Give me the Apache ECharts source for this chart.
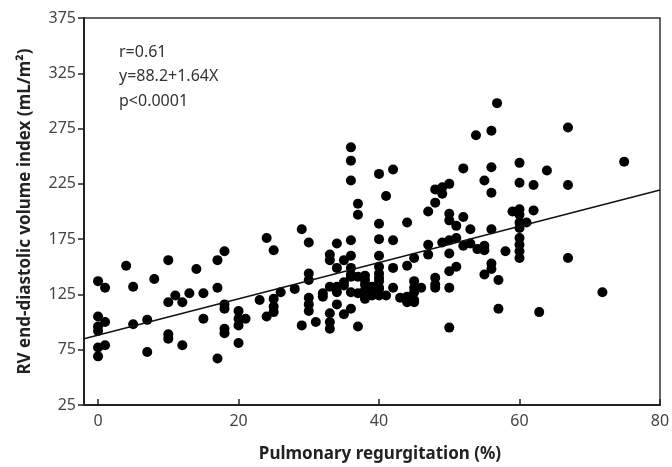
<!DOCTYPE html>
<html>
<head>
<meta charset="utf-8">
<script src="https://cdn.jsdelivr.net/npm/echarts@6/dist/echarts.min.js"></script>
<style>
html,body{margin:0;padding:0;background:#fff;}
#chart{width:672px;height:467px;}
</style>
</head>
<body>
<div id="chart"></div>
<script>
// Pulmonary regurgitation (%)
const prPct = [
0,0,0,0,0,0, 1,1,1,
4,5,5,7,7,8,
10,10,10,10,11,12,12,13,14,15,15,
17,17,17,18,18,18,18,18,
20,20,20,20,21,23,24,24,
25,25,25,25,26,28,29,29,
30,30,30,30,30,30,31,32,32,
33,33,33,33,33,33,
34,34,34,34,34,
35,35,35,35,
36,36,36,36,36,36,36,36,36,36,
37,37,37,37,37,
38,38,38,38,38,38,38,
39,39,39,39,
40,40,40,40,40,40,40,40,40,40,40,
41,41,42,42,42,42,43,
44,44,44,44,
45,45,45,45,45,45,46,
47,47,47,48,48,48,48,48,
49,49,49,
50,50,50,50,50,50,50,50,
51,51,51,52,52,52,53,53,53.8,54,
55,55,55,55,
56.8,56,56,56,56,56,56,
57,57,58,59,
60,60,60,60,60,60,60,60,60,60,
61,62,62,62.8,63.9,66.9,66.9,66.9,71.8,74.9
];
// RV end-diastolic volume index (mL/m2)
const rvEdvi = [
137,105,96,92,77,69, 131,100,79,
151,132,98,102,73,139,
156,118,89,85,124,118,79,126,148,126,103,
156,131,67,164,116,112,94,90,
110,103,97,81,103,120,176,105,
165,121,114,109,127,130,184,97,
172,144,138,122,116,110,100,126,123,
161,156,132,108,100,94,
171,149,132,127,116,
156,136,133,107,
258,246,228,174,160,149,143,141,127,112,
207,197,141,126,96,
142,138,134,129,127,123,121,
132,129,127,124,
234,189,175,160,150,144,140,137,131,130,124,
214,124,238,174,149,131,122,
190,151,123,118,
158,137,131,127,120,118,131,
200,170,161,220,208,140,134,131,
222,216,172,
225,198,192,174,162,146,131,95,
187,176,150,239,195,169,184,171,269,166,
228,169,165,143,
298,273,240,217,184,153,148,
138,112,164,200,
244,226,202,197,190,185,176,170,164,158,
190,224,201,109,237,276,224,158,127,245
];
const xTicks = [0, 20, 40, 60, 80];
const yTicks = [25, 75, 125, 175, 225, 275, 325, 375];
const regIntercept = 88.2;
const regSlope = 1.64;
const statsLines = ['r=0.61', 'y=88.2+1.64X', 'p<0.0001'];

const xMin = -2, xMax = 80;
const points = prPct.map((x, i) => [x, rvEdvi[i]]);

const chart = echarts.init(document.getElementById('chart'), null, {renderer: 'canvas'});
const font = 'Noto Sans';
chart.setOption({
  animation: false,
  backgroundColor: '#fff',
  grid: {left: 84, right: 12, top: 18, bottom: 62, show: true, borderColor: '#333', borderWidth: 1.5, outerBoundsMode: 'none'},
  xAxis: {
    type: 'value', min: xMin, max: xMax,
    name: 'Pulmonary regurgitation (%)', nameLocation: 'middle', nameGap: 41,
    nameTextStyle: {fontFamily: font, fontSize: 17, fontWeight: 'bold', color: '#222', padding: [0, 0, 0, 16]},
    axisLine: {show: true, onZero: false, lineStyle: {color: '#222', width: 2}},
    axisTick: {show: true, inside: true, length: 6, customValues: xTicks, lineStyle: {color: '#222', width: 1.5}},
    axisLabel: {customValues: xTicks, fontFamily: font, fontSize: 16, color: '#444', margin: 8},
    splitLine: {show: false}
  },
  yAxis: {
    type: 'value', min: 25, max: 375,
    name: 'RV end-diastolic volume index (mL/m\u00B2)', nameLocation: 'middle', nameGap: 50,
    nameTextStyle: {fontFamily: font, fontSize: 17, fontWeight: 'bold', color: '#222'},
    axisLine: {show: true, onZero: false, lineStyle: {color: '#222', width: 2}},
    axisTick: {show: true, inside: false, length: 6, customValues: yTicks, lineStyle: {color: '#222', width: 1.5}},
    axisLabel: {customValues: yTicks, fontFamily: font, fontSize: 16, color: '#444', margin: 8},
    splitLine: {show: false}
  },
  graphic: [{
    type: 'text', left: 119, top: 40,
    style: {text: statsLines.join('\n'), font: '16px "Noto Sans"', fill: '#333', lineHeight: 24.5}
  }],
  series: [{
    type: 'scatter',
    data: points,
    symbol: 'circle',
    symbolSize: 10,
    itemStyle: {color: '#000', opacity: 1},
    markLine: {
      silent: true, symbol: ['none', 'none'],
      label: {show: false},
      lineStyle: {color: '#111', width: 1.5, type: 'solid'},
      data: [[
        {coord: [xMin, regIntercept + regSlope * xMin]},
        {coord: [xMax, regIntercept + regSlope * xMax]}
      ]]
    }
  }]
});
</script>
</body>
</html>
